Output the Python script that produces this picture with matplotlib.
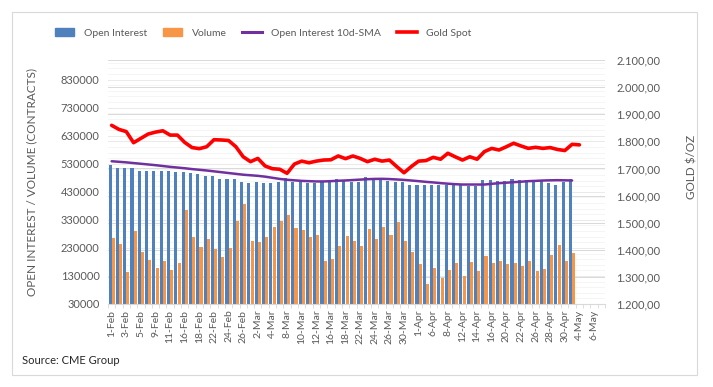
import matplotlib
matplotlib.use("Agg")
import matplotlib.pyplot as plt
from matplotlib.patches import Patch, Rectangle
from matplotlib.lines import Line2D
from matplotlib.ticker import FuncFormatter, FixedLocator

plt.rcParams['font.family'] = ['Lato', 'DejaVu Sans']

# categories (trading days), labels shown every second one
dates = ["1-Feb", "2-Feb", "3-Feb", "4-Feb", "5-Feb", "8-Feb", "9-Feb", "10-Feb", "11-Feb", "12-Feb",
         "16-Feb", "17-Feb", "18-Feb", "19-Feb", "22-Feb", "23-Feb", "24-Feb", "25-Feb", "26-Feb",
         "1-Mar", "2-Mar", "3-Mar", "4-Mar", "5-Mar", "8-Mar", "9-Mar", "10-Mar", "11-Mar", "12-Mar",
         "15-Mar", "16-Mar", "17-Mar", "18-Mar", "19-Mar", "22-Mar", "23-Mar", "24-Mar", "25-Mar",
         "26-Mar", "29-Mar", "30-Mar", "31-Mar",
         "1-Apr", "5-Apr", "6-Apr", "7-Apr", "8-Apr", "9-Apr", "12-Apr", "13-Apr", "14-Apr", "15-Apr",
         "16-Apr", "19-Apr", "20-Apr", "21-Apr", "22-Apr", "23-Apr", "26-Apr", "27-Apr", "28-Apr",
         "29-Apr", "30-Apr",
         "3-May", "4-May", "5-May", "6-May", "7-May"]

open_interest = [526000, 515500, 515500, 515500, 504800, 504800, 504800, 504800, 504800, 500000,
                 500000, 496500, 492900, 485800, 485800, 476300, 476300, 476300, 465500, 462000,
                 466000, 462000, 462000, 466700, 478600, 466700, 466700, 462000, 462000, 466700,
                 470300, 476300, 470300, 466700, 466700, 484600, 478600, 472700, 470300, 464400,
                 464400, 453600, 453600, 453600, 456000, 453600, 456000, 453600, 453600, 451300,
                 451300, 472700, 472700, 469100, 469100, 476300, 472700, 471500, 469100, 472700,
                 460800, 456000, 466700, 476300]

volume = [264400, 243000, 143000, 289400, 214500, 185900, 157300, 182300, 150200, 175200,
          365600, 268000, 232300, 260900, 225200, 196600, 228700, 325100, 385800, 253700,
          250200, 268000, 303700, 325100, 346500, 300100, 293000, 268000, 275100, 182300,
          189500, 235900, 271600, 253700, 235900, 296600, 260900, 303700, 275100, 321600,
          253700, 214500, 171600, 100200, 157300, 121600, 150200, 175200, 128800, 178800,
          146600, 200200, 175200, 182300, 171600, 175200, 164500, 182300, 146600, 153800,
          203700, 239400, 182300, 210900]

oi_sma = [539000, 537000, 535000, 532500, 530000, 527500, 525000, 522000, 519000, 516500,
          514000, 511000, 508500, 506000, 503000, 500000, 497000, 494000, 491000, 489000,
          487000, 484000, 480000, 476000, 473000, 471000, 469000, 468000, 467000, 467000,
          468000, 469500, 470500, 472000, 473500, 475000, 476000, 476300, 475500, 474000,
          472500, 470300, 468000, 465500, 463500, 461000, 459000, 457200, 456000, 456000,
          456000, 456000, 458500, 460800, 462500, 464400, 466000, 468000, 469000, 470300,
          471000, 471500, 471000, 470300]

gold_spot = [1859, 1844, 1836, 1795, 1811, 1827, 1834, 1839, 1823, 1823,
             1796, 1777, 1773, 1780, 1806, 1805, 1803, 1780, 1743, 1725,
             1737, 1709, 1699, 1697, 1682, 1716, 1727, 1721, 1727, 1731,
             1732, 1746, 1736, 1746, 1737, 1725, 1734, 1727, 1731, 1707,
             1684, 1707, 1727, 1729, 1741, 1734, 1756, 1743, 1731, 1743,
             1734, 1762, 1774, 1768, 1780, 1793, 1783, 1774, 1778, 1774,
             1777, 1770, 1766, 1789, 1787]

W, H = 713, 387
fig = plt.figure(figsize=(W / 100, H / 100), dpi=100)
ax = fig.add_axes([108 / W, 83 / H, 497 / W, 244 / H])
ax2 = ax.twinx()

grey_txt = "#595959"
grid_c = "#d9d9d9"
left_lim = (30000, 900000)
right_lim = (1200, 2100)

n = len(dates)
xs = list(range(len(open_interest)))
bw = 0.42
ax.bar([x - 0.22 for x in xs], open_interest, width=bw, color="#4f81bd", zorder=2)
ax.bar([x + 0.22 for x in xs], volume, width=bw, color="#f79646", zorder=2)
ax.plot(xs, oi_sma, color="#7030a0", lw=1.8, zorder=3, solid_capstyle="round")
ax2.plot(range(len(gold_spot)), gold_spot, color="#ff0000", lw=2.6, zorder=4,
         solid_capstyle="round", solid_joinstyle="round")

ax.set_xlim(-0.5, n - 0.5)
ax.set_ylim(*left_lim)
ax2.set_ylim(*right_lim)

left_ticks = list(range(30000, 830001, 100000))
right_ticks = list(range(1200, 2101, 100))
ax.set_yticks(left_ticks)
ax2.set_yticks(right_ticks)

# grid lines of both axes, kept behind the bars
for t in left_ticks[1:]:
    ax.axhline(t, color=grid_c, lw=0.7, zorder=0)
for t in right_ticks[1:]:
    frac = (t - right_lim[0]) / (right_lim[1] - right_lim[0])
    ax.plot([0, 1], [frac, frac], transform=ax.transAxes, color=grid_c, lw=0.7, zorder=0)
for t in range(50000, 900000, 20000):
    ax.axhline(t, color="#f2f2f2", lw=0.5, zorder=0)

ax.yaxis.set_major_formatter(FuncFormatter(lambda v, p: f"{int(v)}"))
ax2.yaxis.set_major_formatter(FuncFormatter(
    lambda v, p: f"{v:,.2f}".replace(",", "X").replace(".", ",").replace("X", ".")))

ax.xaxis.set_major_locator(FixedLocator(list(range(0, n, 2))))
ax.set_xticklabels(dates[::2], rotation=90, fontsize=7.5, color=grey_txt)
ax.xaxis.set_minor_locator(FixedLocator([k - 0.5 for k in range(n + 1)]))
ax.tick_params(axis="x", which="major", length=0, pad=4)
ax.tick_params(axis="x", which="minor", length=3, color=grid_c)
ax.tick_params(axis="y", length=0, labelsize=8, labelcolor=grey_txt, pad=6)
ax2.tick_params(axis="y", length=0, labelsize=8, labelcolor=grey_txt, pad=8)

for a in (ax, ax2):
    for s in ("top", "left", "right"):
        a.spines[s].set_visible(False)
    a.spines["bottom"].set_color(grid_c)
ax2.spines["bottom"].set_visible(False)

ax.set_ylabel("OPEN INTEREST / VOLUME (CONTRACTS)", fontsize=8.5, color=grey_txt)
ax.yaxis.set_label_coords(-0.143, 0.5)
ax2.set_ylabel("GOLD $/OZ", fontsize=8.5, color=grey_txt, rotation=90)
ax2.yaxis.set_label_coords(1.163, 0.56)

handles = [Patch(color="#4f81bd"), Patch(color="#f79646"),
           Line2D([], [], color="#7030a0", lw=2.2), Line2D([], [], color="#ff0000", lw=2.6)]
labels = ["Open Interest", "Volume", "Open Interest 10d-SMA", "Gold Spot"]
fig.legend(handles, labels, loc="center", bbox_to_anchor=(263 / W, 1 - 33 / H), ncol=4,
           frameon=False, fontsize=7.5, labelcolor=grey_txt, handlelength=1.9,
           handleheight=0.7, handletextpad=0.9, columnspacing=1.5)

fig.text(22 / W, 1 - 360 / H, "Source: CME Group", fontsize=8, color="#262626", va="center")
fig.patches.append(Rectangle((12 / W, 12 / H), 685 / W, 363 / H, transform=fig.transFigure,
                             fill=False, edgecolor=grid_c, lw=0.8))

fig.savefig("out.png", dpi=100)
